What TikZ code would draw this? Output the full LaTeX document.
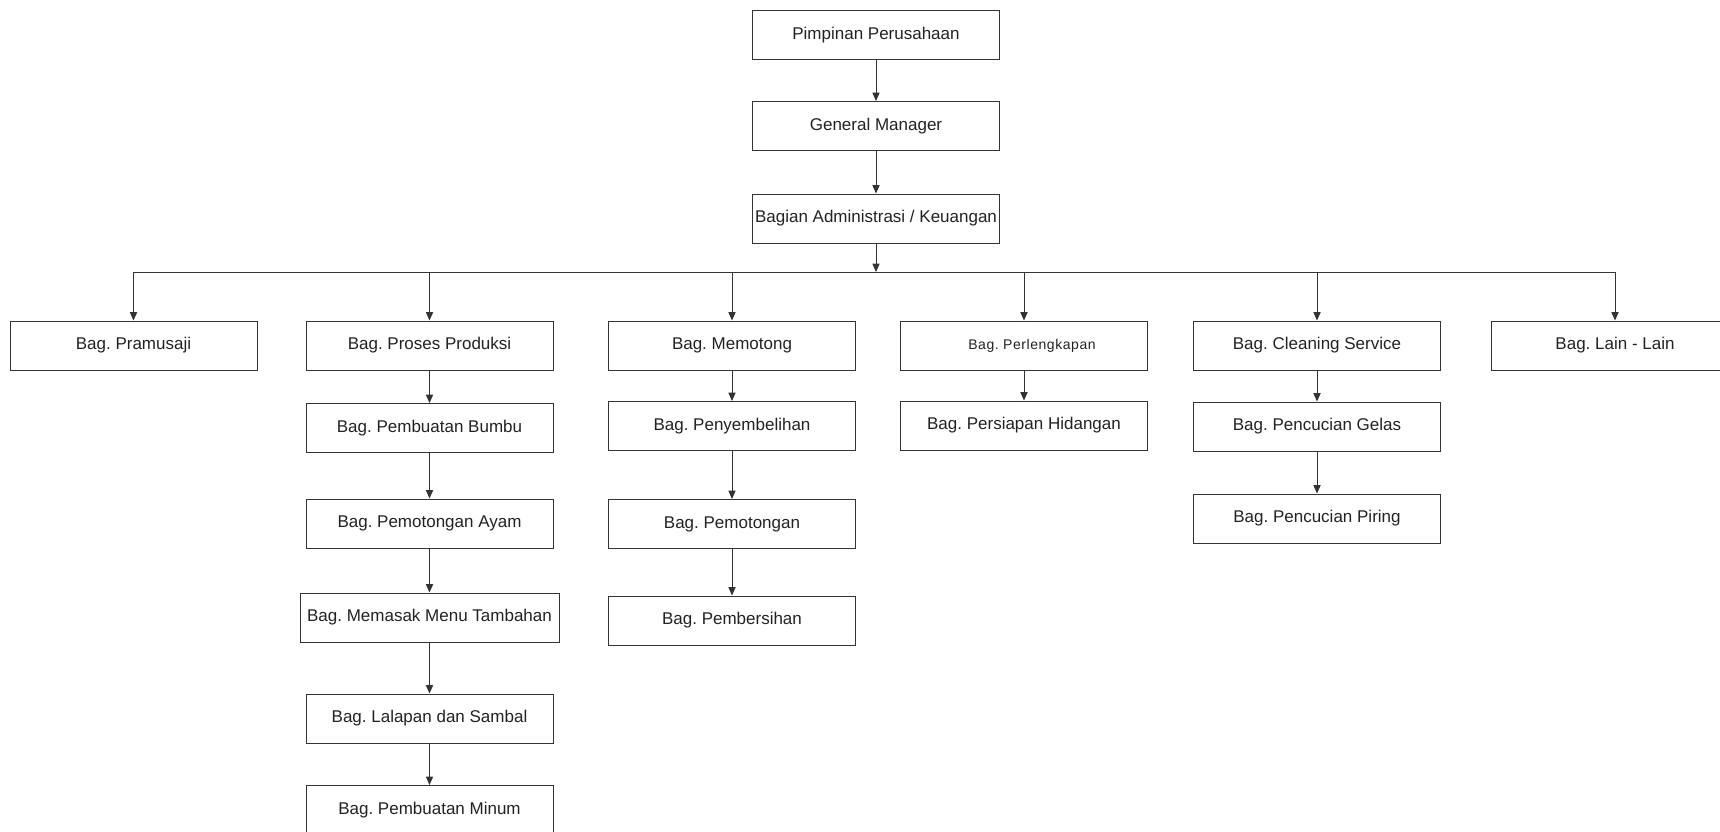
\documentclass[tikz,border=0pt]{standalone}
\usepackage{fontspec}
\setmainfont{Liberation Sans}
\usetikzlibrary{arrows.meta}
\definecolor{linec}{HTML}{333333}
\definecolor{textc}{HTML}{222222}
\frenchspacing
\begin{document}
\begin{tikzpicture}[x=0.5pt,y=-0.5pt,
  box/.style={draw=linec, line width=0.5pt, minimum width=123.5pt, minimum height=24.5pt, inner sep=0pt, font=\fontsize{8.5}{10}\selectfont\frenchspacing, text=textc},
  conn/.style={draw=linec, line width=0.5pt, -{Triangle[length=4.2pt,width=3.6pt]}},
  plain/.style={draw=linec, line width=0.5pt}]
\useasboundingbox (0,0) rectangle (1720,831);
% top chain
\node[box] (pim) at (876,35) {Pimpinan Perusahaan};
\node[box] (gm) at (876,126) {General Manager};
\node[box] (adm) at (876,218.5) {Bagian Administrasi / Keuangan};
% first row
\node[box] (pram) at (133.5,345.5) {Bag. Pramusaji};
\node[box] (pro) at (429.5,345.5) {Bag. Proses Produksi};
\node[box] (mem) at (732,345.5) {Bag. Memotong};
\node[box, font=\fontsize{7}{8}\selectfont\frenchspacing\addfontfeatures{LetterSpace=4}] (perl) at (1024,345.5) {\hspace*{8pt}Bag. Perlengkapan};
\node[box] (clean) at (1317,345.5) {Bag. Cleaning Service};
\node[box] (lain) at (1615,345.5) {Bag. Lain - Lain};
% column produksi
\node[box] (bumbu) at (429.5,428) {Bag. Pembuatan Bumbu};
\node[box] (ayam) at (429.5,523.5) {Bag. Pemotongan Ayam};
\node[box, minimum width=129.5pt] (masak) at (429.5,617.5) {Bag. Memasak Menu Tambahan};
\node[box] (lalap) at (429.5,718.5) {Bag. Lalapan dan Sambal};
\node[box] (minum) at (429.5,810) {Bag. Pembuatan Minum};
% column memotong
\node[box] (sembelih) at (732,426) {Bag. Penyembelihan};
\node[box] (potong) at (732,524) {Bag. Pemotongan};
\node[box] (bersih) at (732,620.5) {Bag. Pembersihan};
% column perlengkapan
\node[box] (hidang) at (1024,425.5) {Bag. Persiapan Hidangan};
% column cleaning
\node[box] (gelas) at (1317,426.5) {Bag. Pencucian Gelas};
\node[box] (piring) at (1317,518.5) {Bag. Pencucian Piring};
% connectors
\coordinate (bus) at (876,272);
\draw[conn] (pim) -- (gm);
\draw[conn] (gm) -- (adm);
\draw[conn] (adm.south) -- (bus);
\draw[plain] (pram.north |- bus) -- (lain.north |- bus);
\foreach \n in {pram,pro,mem,perl,clean,lain}
  \draw[conn] (\n.north |- bus) -- (\n.north);
\draw[conn] (pro) -- (bumbu);
\draw[conn] (bumbu) -- (ayam);
\draw[conn] (ayam) -- (masak);
\draw[conn] (masak) -- (lalap);
\draw[conn] (lalap) -- (minum);
\draw[conn] (mem) -- (sembelih);
\draw[conn] (sembelih) -- (potong);
\draw[conn] (potong) -- (bersih);
\draw[conn] (perl) -- (hidang);
\draw[conn] (clean) -- (gelas);
\draw[conn] (gelas) -- (piring);
\end{tikzpicture}
\end{document}
